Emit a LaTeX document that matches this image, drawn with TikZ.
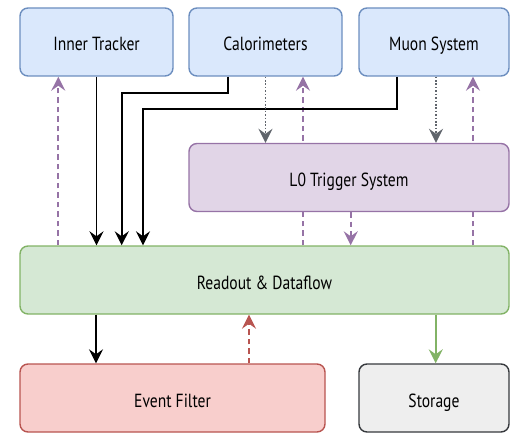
\documentclass[tikz,border=0pt]{standalone}
\usepackage{fontspec}
\setmainfont{PT Sans}[FakeStretch=0.82]
\usetikzlibrary{arrows.meta,backgrounds}

\definecolor{blueFill}{HTML}{DAE8FC}\definecolor{blueLine}{HTML}{6C8EBF}
\definecolor{purpFill}{HTML}{E1D5E7}\definecolor{purpLine}{HTML}{9673A6}
\definecolor{greenFill}{HTML}{D5E8D4}\definecolor{greenLine}{HTML}{82B366}
\definecolor{redFill}{HTML}{F8CECC}\definecolor{redLine}{HTML}{B85450}
\definecolor{grayFill}{HTML}{EEEEEE}\definecolor{grayLine}{HTML}{36393D}
\definecolor{ctrlGray}{HTML}{60656C}

\tikzset{
  block/.style={draw, rounded corners=8pt, line width=1.4pt, inner sep=0pt,
    font=\fontsize{19}{22}\selectfont, text=black,
    text height=18pt, text depth=0pt},
  tip/.style={-{Stealth[length=14pt,width=14pt,inset=5pt]}},
  dataflow/.style={tip, line width=1.8pt, black},
  control/.style={tip, line width=1.8pt, purpLine, dash pattern=on 5.5pt off 4pt},
  trigsig/.style={tip, line width=1.8pt, ctrlGray, dash pattern=on 1.6pt off 1.8pt},
  feedback/.style={tip, line width=1.8pt, redLine, dash pattern=on 5.5pt off 4pt},
  storeflow/.style={tip, line width=1.8pt, greenLine},
}

\begin{document}
\begin{tikzpicture}[x=1pt,y=-1pt]
\useasboundingbox (0,0) rectangle (510,433);

% detector subsystems
\node[block, fill=blueFill, draw=blueLine, minimum width=153pt, minimum height=68pt]
  (it) at (96.5,42) {Inner Tracker};
\node[block, fill=blueFill, draw=blueLine, minimum width=153pt, minimum height=68pt]
  (cal) at (265.5,42) {Calorimeters};
\node[block, fill=blueFill, draw=blueLine, minimum width=150pt, minimum height=68pt]
  (mu) at (434,42) {Muon System};

% trigger and readout
\node[block, fill=purpFill, draw=purpLine, minimum width=320pt, minimum height=68pt]
  (l0) at (349,177.5) {L0 Trigger System};
\node[block, fill=greenFill, draw=greenLine, minimum width=489pt, minimum height=68pt]
  (ro) at (264.5,280) {Readout \& Dataflow};

% downstream
\node[block, fill=redFill, draw=redLine, minimum width=305pt, minimum height=68pt]
  (ef) at (172.5,398) {Event Filter};
\node[block, fill=grayFill, draw=grayLine, minimum width=150pt, minimum height=68pt]
  (st) at (434,398) {Storage};

% bend points of the detector data lines
\coordinate (calbend) at (121.7,92.7);
\coordinate (mubend) at (143,109);

\begin{scope}[on background layer]
  % control lines from readout back to the detectors (run behind the trigger box)
  \draw[control] ([xshift=-38.2pt]it.south |- ro.north) -- ([xshift=-38.2pt]it.south);
  \draw[control] ([xshift=37.5pt]cal.south |- ro.north) -- ([xshift=37.5pt]cal.south);
  \draw[control] ([xshift=39pt]mu.south |- ro.north) -- ([xshift=39pt]mu.south);
\end{scope}

% detector data into readout
\draw[dataflow] (it.south) -- (it.south |- ro.north);
\draw[dataflow] ([xshift=-37.5pt]cal.south) |- (calbend) -- (calbend |- ro.north);
\draw[dataflow] ([xshift=-37pt]mu.south) |- (mubend) -- (mubend |- ro.north);

% trigger primitives
\draw[trigsig] (cal.south) -- (cal.south |- l0.north);
\draw[trigsig] ([xshift=2pt]mu.south) -- ([xshift=2pt]mu.south |- l0.north);

% L0 accept
\draw[control] ([xshift=1.7pt]l0.south) -- ([xshift=1.7pt]l0.south |- ro.north);

% readout to event filter and storage
\draw[dataflow] ([xshift=76.7pt]ro.south west) -- ([xshift=76.7pt]ro.south west |- ef.north);
\draw[feedback] ([xshift=76.5pt]ef.north) -- ([xshift=76.5pt]ef.north |- ro.south);
\draw[storeflow] ([xshift=1.7pt]st.north |- ro.south) -- ([xshift=1.7pt]st.north);
\end{tikzpicture}
\end{document}
